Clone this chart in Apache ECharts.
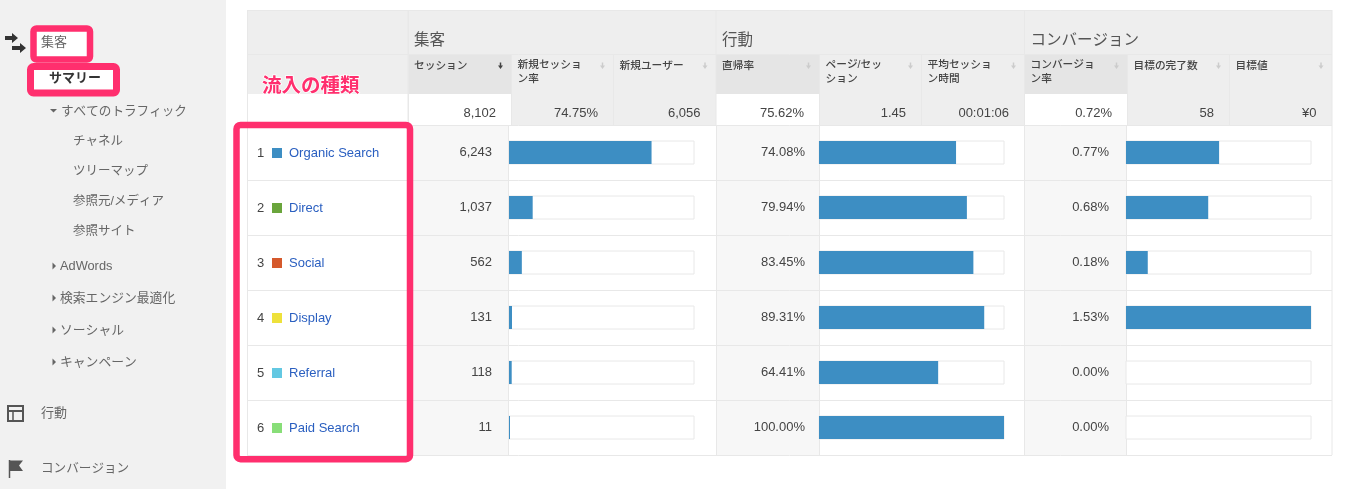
<!DOCTYPE html>
<html>
<head>
<meta charset="utf-8">
<title>集客 サマリー</title>
<script src="https://cdn.jsdelivr.net/npm/echarts@6/dist/echarts.min.js"></script>
<style>
html,body{margin:0;padding:0;background:#fff;overflow:hidden;}
#chart{width:1348px;height:489px;}
</style>
</head>
<body>
<div id="chart"></div>
<script>
// data
var channels = ['Organic Search','Direct','Social','Display','Referral','Paid Search'];
var sessions = [6243,1037,562,131,118,11];
var bounceRates = [74.08,79.94,83.45,89.31,64.41,100.00];
var conversionRates = [0.77,0.68,0.18,1.53,0.00,0.00];
var sessionsTotal = 8102;
var groupTitles = ['集客','行動','コンバージョン'];
var metricNames = ['セッション','新規セッショ\nン率','新規ユーザー','直帰率','ページ/セッ\nション','平均セッショ\nン時間','コンバージョ\nン率','目標の完了数','目標値'];
var metricTotals = ['8,102','74.75%','6,056','75.62%','1.45','00:01:06','0.72%','58','¥0'];
var navSub = ['チャネル','ツリーマップ','参照元/メディア','参照サイト'];
var navClosed = ['AdWords','検索エンジン最適化','ソーシャル','キャンペーン'];

// layout and styles
var channelColors = ['#3d8ec3','#6aa53c','#d5592c','#eee13b','#63c8e2','#88de78'];
var barColor = '#3d8ec3';
var pink = '#ff2f6e';
var lineColor = '#e8e8e8';
var headBg = '#eeeeee';
var headActive = '#e5e5e5';
var font = '"Liberation Sans","Noto Sans CJK JP",sans-serif';
var colEdges = [408,511.5,613.5,716,819.5,921.5,1024.5,1127.5,1229.5,1332];
var activeCols = [0,3,6];
var rowTop = 125;
var rowH = 55;

function fmt(n){
    return n.toString().replace(/\B(?=(\d{3})+$)/g,',');
}
function rect(x,y,w,h,fill,z){
    return {type:'rect',shape:{x:x,y:y,width:w,height:h},style:{fill:fill},z:z||0,silent:true};
}
function line(x1,y1,x2,y2,color,w,z){
    return {type:'line',shape:{x1:x1,y1:y1,x2:x2,y2:y2},style:{stroke:color||lineColor,lineWidth:w||1},z:z||1,silent:true};
}
function text(x,y,str,size,color,opt){
    opt = opt || {};
    return {type:'text',x:x,y:y,z:opt.z||5,silent:true,style:{
        text:str,fill:color,font:(opt.weight?opt.weight+' ':'')+size+'px '+font,
        textAlign:opt.align||'left',textVerticalAlign:'middle',textBaseline:'middle',
        lineHeight:opt.lineHeight,stroke:opt.stroke,lineWidth:opt.strokeWidth,
        shadowColor:opt.shadowColor,shadowBlur:opt.shadowBlur,shadowOffsetX:opt.shadowX,shadowOffsetY:opt.shadowY
    }};
}
function poly(points,fill,z){
    return {type:'polygon',shape:{points:points},style:{fill:fill},z:z||5,silent:true};
}
function box(x,y,w,h,lw,r){
    return {type:'rect',shape:{x:x,y:y,width:w,height:h,r:r},style:{fill:'none',stroke:pink,lineWidth:lw},z:20,silent:true};
}

function sidebar(){
    var g = [];
    g.push(rect(0,0,226,489,'#f1f1f1'));
    // highlighted nav items
    g.push(rect(33,28,57,32,'#ffffff',1));
    g.push(rect(30,66,87,27,'#ffffff',1));
    g.push(box(33.5,28.5,56.5,31,6.5,3));
    g.push(box(30.5,66.5,86,26.5,7,3));
    g.push(text(41,42,'集客',13,'#666666'));
    g.push(text(49,78,'サマリー',13,'#333333',{weight:'bold'}));
    g.push(poly([[50,109],[57,109],[53.5,112.5]],'#666666'));
    g.push(text(61,111.5,'すべてのトラフィック',12.6,'#666666'));
    for(var i=0;i<navSub.length;i++){
        g.push(text(73,141.5+i*30,navSub[i],12.5,'#666666'));
    }
    for(var j=0;j<navClosed.length;j++){
        var y = 266+j*32;
        g.push(poly([[52.5,y-3.5],[56,y],[52.5,y+3.5]],'#666666'));
        g.push(text(60,y,navClosed[j],12.8,'#666666'));
    }
    // 集客 icon
    g.push(poly([[5,36],[12,36],[12,33],[18,38],[12,43],[12,40],[5,40]],'#333333'));
    g.push(poly([[12,46],[20,46],[20,43],[26,48],[20,53],[20,50],[12,50]],'#333333'));
    // 行動 icon
    g.push({type:'rect',shape:{x:8,y:406,width:15,height:15},style:{fill:'none',stroke:'#555555',lineWidth:2},z:5,silent:true});
    g.push(line(8,411,23,411,'#555555',2,5));
    g.push(line(13,411,13,421,'#555555',1.5,5));
    g.push(text(41,413,'行動',13,'#666666'));
    // コンバージョン icon
    g.push(line(9.5,460,9.5,478,'#555555',1.5,5));
    g.push(poly([[10,460.5],[23,460.5],[19,465.5],[23,471],[10,471]],'#555555'));
    g.push(text(41,468.5,'コンバージョン',12.6,'#666666'));
    return g;
}

function tableHead(){
    var g = [];
    g.push(rect(247,10,1085,84,headBg));
    g.push(rect(247,94,161,31,'#ffffff'));
    g.push(line(247,54.5,1332,54.5));
    g.push(line(247,10.5,1332,10.5));
    g.push(line(247.5,10,247.5,125));
    g.push(line(408.5,10,408.5,125));
    for(var i=0;i<metricNames.length;i++){
        var x0 = colEdges[i], x1 = colEdges[i+1];
        var active = activeCols.indexOf(i)>=0;
        var twoLines = metricNames[i].indexOf('\n')>=0;
        if(active){
            g.push(rect(x0,55,x1-x0,39,headActive));
        }
        g.push(rect(x0,94,x1-x0,31,active?'#ffffff':headBg));
        g.push(line(x0,i%3==0?10:55,x0,125));
        g.push(text(x0+6,twoLines?72.5:66,metricNames[i],10.7,'#444444',{weight:500,lineHeight:14}));
        // sort arrow
        var ac = i==0 ? '#444444' : '#cccccc';
        var ax = x1-11;
        g.push(line(ax,62.5,ax,67,ac,1.5,5));
        g.push(poly([[ax-2.5,65.5],[ax+2.5,65.5],[ax,69]],ac));
        g.push(text(x1-15.5,113.5,metricTotals[i],13,'#444444',{align:'right'}));
    }
    g.push(line(1332,10,1332,125));
    for(var k=0;k<groupTitles.length;k++){
        g.push(text(colEdges[k*3]+6,40.5,groupTitles[k],15.5,'#555555'));
    }
    g.push(text(262,87,'流入の種類',19.5,pink,{weight:'bold',stroke:'#ffffff',strokeWidth:1.5,shadowColor:'rgba(90,90,90,0.7)',shadowBlur:3,shadowX:1,shadowY:1,z:22}));
    return g;
}

function tableBody(){
    var g = [];
    var valueCols = [[408,508],[716,819],[1024,1126]];
    for(var c=0;c<valueCols.length;c++){
        g.push(rect(valueCols[c][0],rowTop,valueCols[c][1]-valueCols[c][0],rowH*channels.length,'#f7f7f7'));
        g.push(line(valueCols[c][1]+0.5,rowTop,valueCols[c][1]+0.5,rowTop+rowH*channels.length));
        g.push(line(valueCols[c][0]+0.5,rowTop,valueCols[c][0]+0.5,rowTop+rowH*channels.length));
    }
    g.push(line(247.5,rowTop,247.5,rowTop+rowH*channels.length));
    g.push(line(1332,rowTop,1332,rowTop+rowH*channels.length));
    for(var i=0;i<=channels.length;i++){
        g.push(line(247,rowTop+i*rowH+0.5,1332,rowTop+i*rowH+0.5));
    }
    for(var j=0;j<channels.length;j++){
        var cy = rowTop+j*rowH+rowH/2;
        g.push(text(257,cy+1,String(j+1),13,'#444444'));
        g.push(rect(272,cy-4.5,10,10,channelColors[j],3));
        g.push(text(289,cy+1,channels[j],13,'#2a5fc0'));
    }
    g.push(box(236.5,125,173.5,334.2,6.5,4));
    return g;
}

function barGrid(index,values,max,labels,left,margin,minH){
    return {
        grid:{left:left,top:rowTop,width:185,height:rowH*channels.length},
        xAxis:{gridIndex:index,type:'value',min:0,max:max,show:false},
        yAxis:{gridIndex:index,type:'category',inverse:true,data:labels,
            axisLine:{show:false},axisTick:{show:false},splitLine:{show:false},
            axisLabel:{margin:margin,color:'#444444',fontSize:13,fontFamily:font,align:'right',padding:[0,0,1,0]}},
        series:{type:'bar',xAxisIndex:index,yAxisIndex:index,data:values,barWidth:23,barMinHeight:minH,
            itemStyle:{color:barColor},silent:true,animation:false,
            showBackground:true,
            backgroundStyle:{color:'#ffffff',borderColor:'#e8e8e8',borderWidth:1}}
    };
}

var grids = [
    barGrid(0,sessions,sessionsTotal,sessions.map(fmt),509,17,1),
    barGrid(1,bounceRates,100,bounceRates.map(function(v){return v.toFixed(2)+'%';}),819,14,0),
    barGrid(2,conversionRates,1.53,conversionRates.map(function(v){return v.toFixed(2)+'%';}),1126,17,0)
];

var myChart = echarts.init(document.getElementById('chart'),null,{renderer:'canvas'});
var option = {
    animation:false,
    backgroundColor:'#ffffff',
    textStyle:{fontFamily:font},
    graphic:{elements:sidebar().concat(tableHead()).concat(tableBody())},
    grid:grids.map(function(d){return d.grid;}),
    xAxis:grids.map(function(d){return d.xAxis;}),
    yAxis:grids.map(function(d){return d.yAxis;}),
    series:grids.map(function(d){return d.series;})
};
myChart.setOption(option);
</script>
</body>
</html>
